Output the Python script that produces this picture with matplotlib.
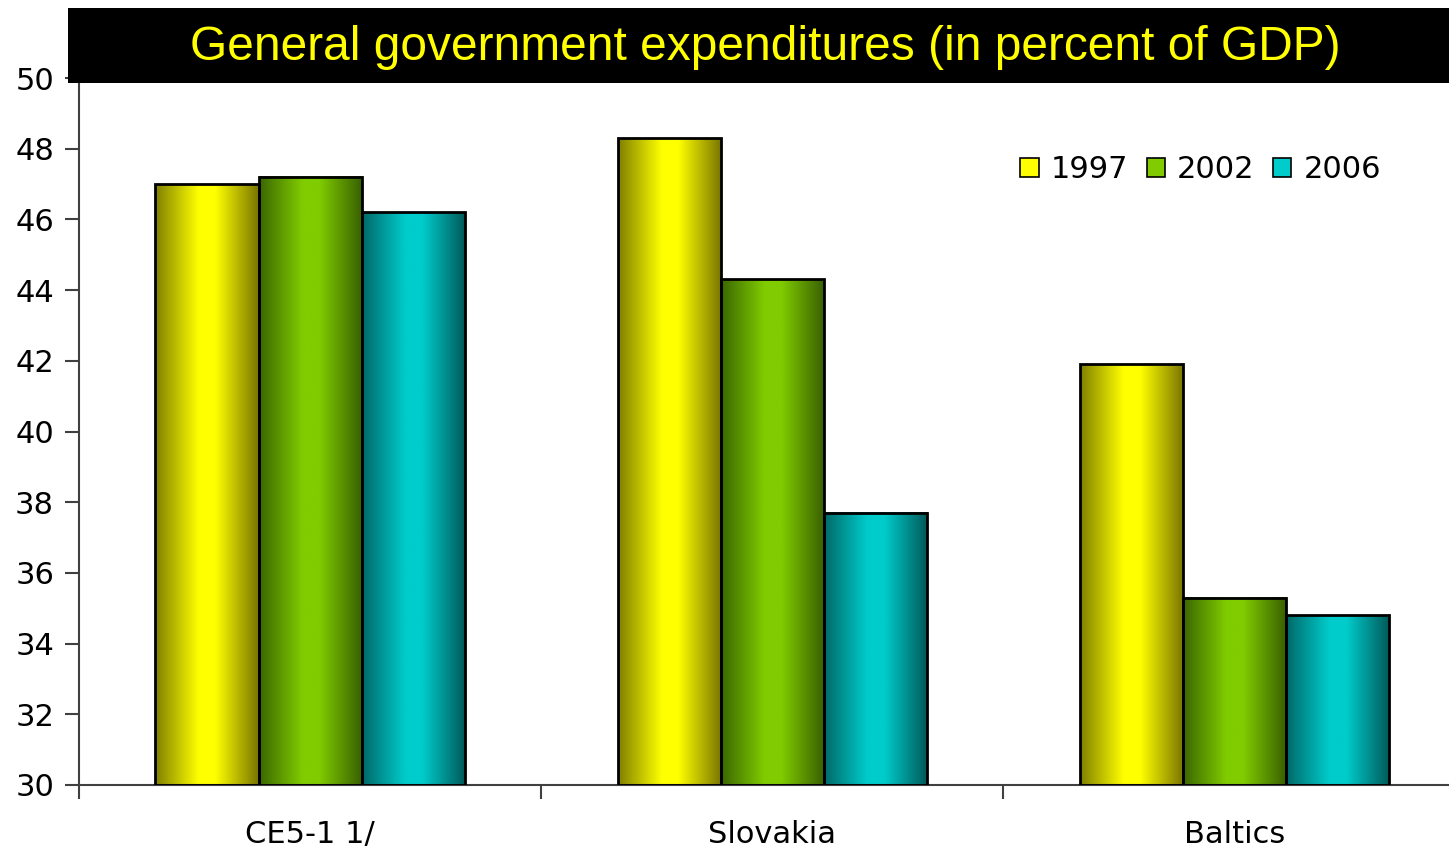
import matplotlib.pyplot as plt
import numpy as np
from matplotlib.colors import LinearSegmentedColormap
from matplotlib.patches import Rectangle

categories = ['CE5-1 1/', 'Slovakia', 'Baltics']
years = ['1997', '2002', '2006']
values = {
    '1997': [47.0, 48.3, 41.9],
    '2002': [47.2, 44.3, 35.3],
    '2006': [46.2, 37.7, 34.8],
}
colors = {'1997': '#ffff00', '2002': '#80cc00', '2006': '#00cccc'}
dark_left = {'1997': '#7f7f00', '2002': '#3a6600', '2006': '#006868'}
dark_right = {'1997': '#787400', '2002': '#385e00', '2006': '#005858'}

title = 'General government expenditures (in percent of GDP)'


def gradient_map(year):
    return LinearSegmentedColormap.from_list(
        'g' + year,
        [(0.0, dark_left[year]), (0.42, colors[year]), (0.58, colors[year]),
         (1.0, dark_right[year])])


fig = plt.figure(figsize=(14.49, 8.5), dpi=100)
ax = fig.add_axes([79 / 1449, 65 / 850, 1 - 79 / 1449, (785 - 78) / 850])

x = np.arange(len(categories))
width = 0.223
grad = np.linspace(0, 1, 256)[np.newaxis, :]

for i, year in enumerate(years):
    offs = (i - 1) * width
    bars = ax.bar(x + offs, np.array(values[year]) - 30, width, bottom=30,
                  facecolor='none', edgecolor='black', linewidth=2, zorder=3)
    cmap = gradient_map(year)
    for b in bars:
        x0 = b.get_x()
        ax.imshow(grad, extent=[x0, x0 + b.get_width(), 30, 30 + b.get_height()],
                  aspect='auto', cmap=cmap, zorder=2, interpolation='bilinear')
    ax.add_patch(Rectangle((0, 0), 0, 0, facecolor=colors[year],
                           edgecolor='black', linewidth=1.2, label=year))

ax.set_yticks(np.arange(30, 51, 2))
ax.set_xticks([-0.5, 0.5, 1.5, 2.5])
ax.set_xticklabels([])
ax.set_xticks(x, minor=True)
ax.set_xticklabels(categories, minor=True)
ax.set_xlim(-0.5, 2.465)
ax.set_ylim(30, 50)
ax.tick_params(axis='x', which='minor', length=0, pad=25)
ax.tick_params(axis='x', which='major', length=10, width=1.5, color='#404040')
ax.tick_params(axis='y', length=10, width=1.5, color='#404040', pad=8)
for lab in ax.get_yticklabels() + ax.get_xticklabels(minor=True):
    lab.set_fontsize(22)
    lab.set_family('DejaVu Sans')

for s in ['top', 'right']:
    ax.spines[s].set_visible(False)
for s in ['left', 'bottom']:
    ax.spines[s].set_color('#404040')
    ax.spines[s].set_linewidth(1.5)

ax.legend(loc='upper left', bbox_to_anchor=(0.667, 0.93), ncol=3, frameon=False,
          fontsize=22, handlelength=0.6, handleheight=0.6, handletextpad=0.4,
          columnspacing=0.6)

# black title bar over the top of the plot
fig.patches.append(Rectangle((68 / 1449, (850 - 83) / 850), 1 - 68 / 1449, 75 / 850,
                             transform=fig.transFigure, facecolor='black',
                             edgecolor='none', zorder=5))
fig.text(765 / 1449, (850 - 48) / 850, title, color='#ffff00', fontsize=34.5,
         family='Liberation Sans', ha='center', va='center', zorder=6)

fig.savefig('out.png', dpi=100)
